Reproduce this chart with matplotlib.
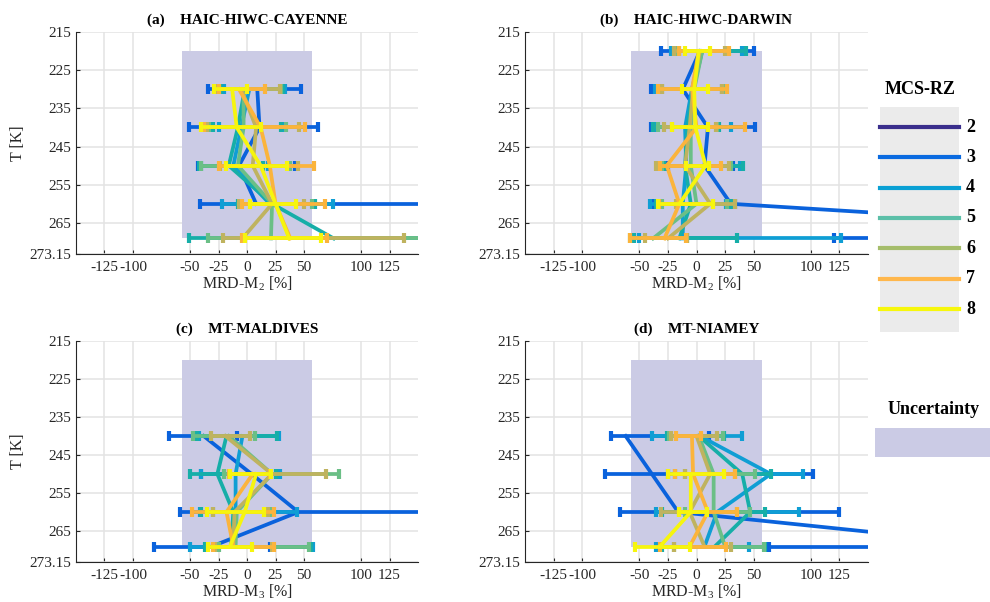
import numpy as np
import matplotlib

matplotlib.use("Agg")
import matplotlib.pyplot as plt
from matplotlib.patches import Rectangle

plt.rcParams["font.family"] = ["Liberation Serif", "DejaVu Serif"]
plt.rcParams["mathtext.fontset"] = "custom"
plt.rcParams["mathtext.rm"] = "Liberation Serif"
plt.rcParams["mathtext.it"] = "Liberation Serif:italic"
plt.rcParams["axes.unicode_minus"] = False

nan = np.nan

# temperature bin centres (last bin is 265-273.15 K)
T_LEVELS = [220, 230, 240, 250, 260, 269.075]
RZ_CLASSES = ["2", "3", "4", "5", "6", "7", "8"]
PANEL_TITLES = ["(a)    HAIC-HIWC-CAYENNE", "(b)    HAIC-HIWC-DARWIN",
                "(c)    MT-MALDIVES", "(d)    MT-NIAMEY"]
XLABELS = ["MRD-M$_2$ [%]", "MRD-M$_2$ [%]", "MRD-M$_3$ [%]", "MRD-M$_3$ [%]"]
X_TICKS = [-125, -100, -50, -25, 0, 25, 50, 100, 125]
Y_TICKS = [215, 225, 235, 245, 255, 265, 273.15]
UNC_X = (-57, 57)
UNC_T = (220, 269.075)

# per panel: rows = RZ classes 2..8, columns = T_LEVELS
CAYENNE_MEAN = [[nan, 9, 11, -7, 8, nan],
                [nan, 2, -5, -12, 20, nan],
                [nan, -2, -8, -16, 22, 76],
                [nan, -3, -3, -8, 22, 21],
                [nan, -5, 8, 5, 22, -4],
                [nan, -7, 12, 20, 25, 38],
                [nan, -13, -9, 12, 25, 37]]
CAYENNE_LO = [[nan, -34, -51, -43, -41, nan],
              [nan, -20, -25, -40, -22, nan],
              [nan, -23, -30, -42, -8, -51],
              [nan, -25, -33, -40, -6, -34],
              [nan, -28, -35, -24, -7, -21],
              [nan, -25, -38, -25, -4, -4],
              [nan, -29, -40, -18, 3, -2]]
CAYENNE_HI = [[nan, 47, 62, 42, 220, nan],
              [nan, 33, 32, 18, 75, nan],
              [nan, 32, 30, 14, 60, 190],
              [nan, 30, 34, 38, 57, 200],
              [nan, 29, 46, 45, 50, 138],
              [nan, 16, 51, 59, 68, 70],
              [nan, 0, 12, 35, 43, 65]]

DARWIN_MEAN = [[3, -12, 10, 7, 30, 520],
               [4, -4, -10, -9, -12, -12],
               [5, -3, -8, -10, -5, -15],
               [5, -2, -5, -5, 0, -38],
               [3, -3, -6, -10, 12, -25],
               [2, -4, 0, -26, -15, -28],
               [2, -2, -1, 8, -15, nan]]
DARWIN_LO = [[-31, -40, -40, -25, -38, 120],
             [-22, -36, -35, -30, -41, -50],
             [-15, -33, -38, -28, -35, -55],
             [-18, -30, -34, -30, -30, -58],
             [-20, -30, -28, -35, -18, -45],
             [-15, -34, -21, -32, -33, -58],
             [-10, -13, -21, -9, -34, nan]]
DARWIN_HI = [[50, 25, 51, 32, 34, 900],
             [40, 24, 30, 38, 26, 126],
             [43, 22, 20, 41, 30, 35],
             [27, 26, 18, 30, 27, -8],
             [25, 22, 17, 28, 34, -8],
             [28, 27, 42, 21, 14, -9],
             [12, 10, 10, 11, 14, nan]]

MALDIVES_MEAN = [[nan, nan, -38, 4, 45, -31],
                 [nan, nan, -4, -10, -10, -12],
                 [nan, nan, -18, -26, -12, -14],
                 [nan, nan, -16, 22, -9, -10],
                 [nan, nan, -19, 22, -11, -12],
                 [nan, nan, nan, 5, -18, -12],
                 [nan, nan, nan, 8, -2, -15]]
MALDIVES_LO = [[nan, nan, -68, -40, -59, -82],
               [nan, nan, -42, -40, -41, -50],
               [nan, nan, -44, -50, -40, -37],
               [nan, nan, -47, -20, -30, -25],
               [nan, nan, -32, -16, -30, -28],
               [nan, nan, nan, -16, -48, -30],
               [nan, nan, nan, -15, -35, -34]]
MALDIVES_HI = [[nan, nan, -9, 28, 300, 20],
               [nan, nan, 28, 29, 44, 58],
               [nan, nan, 26, 25, 20, 56],
               [nan, nan, 7, 81, 20, 54],
               [nan, nan, 3, 69, 18, 22],
               [nan, nan, nan, 20, 24, 24],
               [nan, nan, nan, 21, 15, 4]]

NIAMEY_MEAN = [[nan, nan, -62, -39, -16, 275],
               [nan, nan, 3, 65, 18, 7],
               [nan, nan, 2, 40, 47, 16],
               [nan, nan, 2, 15, 15, 25],
               [nan, nan, 0, 12, -6, 7],
               [nan, nan, -4, -3, 10, -6],
               [nan, nan, nan, -5, -5, -32]]
NIAMEY_LO = [[nan, nan, -75, -80, -67, 63],
             [nan, nan, -39, -25, -35, -35],
             [nan, nan, -26, -19, -30, -30],
             [nan, nan, -24, -10, -10, -20],
             [nan, nan, -22, -10, -31, -20],
             [nan, nan, -18, -19, -15, -32],
             [nan, nan, nan, -25, -15, -54]]
NIAMEY_HI = [[nan, nan, 11, 102, 125, 500],
             [nan, nan, 40, 93, 90, 46],
             [nan, nan, 24, 65, 60, 60],
             [nan, nan, 23, 51, 47, 59],
             [nan, nan, 18, 34, 35, 30],
             [nan, nan, 4, 34, 35, 26],
             [nan, nan, nan, 24, 9, -6]]

LINE_COLORS = ["#0a62dc", "#0f9ed4", "#16aea8", "#6bbf86", "#bfb35f", "#fbb43c", "#f6f50e"]
LEGEND_COLORS = ["#3a2e8c", "#0a6ae0", "#0aa0d4", "#5bbfa8", "#a5bd6b", "#ffb74c", "#f7f70c"]
UNC_COLOR = "#cbcbe5"

panels = [(CAYENNE_MEAN, CAYENNE_LO, CAYENNE_HI),
          (DARWIN_MEAN, DARWIN_LO, DARWIN_HI),
          (MALDIVES_MEAN, MALDIVES_LO, MALDIVES_HI),
          (NIAMEY_MEAN, NIAMEY_LO, NIAMEY_HI)]

W, H = 990, 602
fig = plt.figure(figsize=(W / 100, H / 100), dpi=100)

# axes boxes in pixels: left, top, right, bottom
boxes = [(76, 32, 418, 254), (525, 32, 868, 254),
         (76, 341, 418, 562), (525, 341, 868, 562)]

for i, (box, (mean, lo, hi)) in enumerate(zip(boxes, panels)):
    l, t, r, b = box
    ax = fig.add_axes([l / W, 1 - b / H, (r - l) / W, (b - t) / H])
    ax.set_axisbelow(True)
    ax.grid(True, color="#e3e3e3", lw=1.1)
    ax.add_patch(Rectangle((UNC_X[0], UNC_T[0]), UNC_X[1] - UNC_X[0], UNC_T[1] - UNC_T[0],
                           facecolor=UNC_COLOR, edgecolor="none", zorder=1))
    mean = np.array(mean, dtype=float)
    lo = np.array(lo, dtype=float)
    hi = np.array(hi, dtype=float)
    for k in range(len(RZ_CLASSES)):
        ax.errorbar(mean[k], T_LEVELS, xerr=[mean[k] - lo[k], hi[k] - mean[k]],
                    fmt="-", color=LINE_COLORS[k], lw=2.7, elinewidth=2.7,
                    capsize=3.5, capthick=3, zorder=2 + k)
    ax.set_xlim(-150, 150)
    ax.set_ylim(273.15, 215)
    ax.set_xticks(X_TICKS)
    ax.set_yticks(Y_TICKS)
    ax.set_yticklabels(["215", "225", "235", "245", "255", "265", "273.15"])
    ax.tick_params(direction="in", length=3, labelsize=11, colors="#262626", width=0.8)
    ax.tick_params(axis="x", pad=5)
    for side in ["top", "right"]:
        ax.spines[side].set_visible(False)
    for side in ["left", "bottom"]:
        ax.spines[side].set_color("#262626")
        ax.spines[side].set_linewidth(0.8)
    ax.set_title(PANEL_TITLES[i], fontsize=11, fontweight="bold", pad=6)
    ax.set_xlabel(XLABELS[i], fontsize=11.5, labelpad=0.5, color="#262626")
    if i % 2 == 0:
        ax.set_ylabel("T [K]", fontsize=11.5, color="#262626", labelpad=2)

# legend drawn in pixel space on the right
lax = fig.add_axes([0, 0, 1, 1], zorder=20)
lax.set_xlim(0, W)
lax.set_ylim(H, 0)
lax.axis("off")
lax.text(920, 90, "MCS-RZ", fontsize=13, fontweight="bold", ha="center", va="center")
lax.add_patch(Rectangle((880, 107), 79, 225, facecolor="#ebebeb", edgecolor="none"))
ys = np.linspace(127, 309, len(RZ_CLASSES))
for y, c, lab in zip(ys, LEGEND_COLORS, RZ_CLASSES):
    lax.plot([880, 959], [y, y], color=c, lw=3)
    lax.text(966, y, lab, fontsize=13, fontweight="bold", ha="left", va="center")
lax.text(934, 410, "Uncertainty", fontsize=13, fontweight="bold", ha="center", va="center")
lax.add_patch(Rectangle((875, 428), 115, 29, facecolor=UNC_COLOR, edgecolor="none"))

fig.savefig("out.png", dpi=100)
